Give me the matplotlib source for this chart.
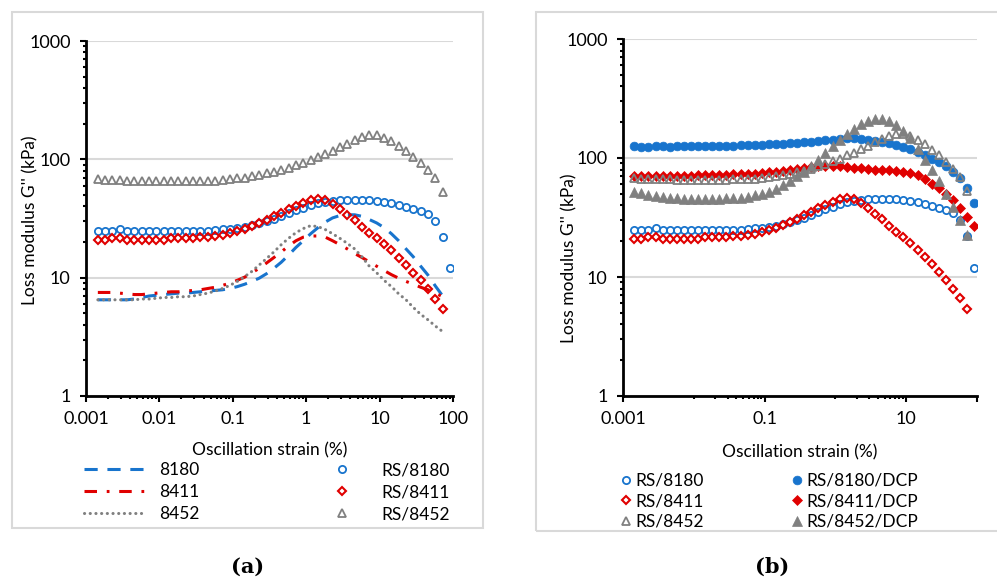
import matplotlib.pyplot as plt
from matplotlib.legend import Legend
from matplotlib.patches import Rectangle
from matplotlib.ticker import FixedLocator, NullFormatter

plt.rcParams['font.family'] = ['Lato', 'DejaVu Sans']
plt.rcParams['lines.scale_dashes'] = False

# ---- data ----
strain = [0.00145, 0.00182, 0.00229, 0.00288, 0.00363, 0.00457, 0.00575, 0.00724, 0.00912,
          0.0115, 0.0145, 0.0182, 0.0229, 0.0288, 0.0363, 0.0457, 0.0575, 0.0724, 0.0912,
          0.115, 0.145, 0.182, 0.229, 0.288, 0.363, 0.457, 0.575, 0.724, 0.912,
          1.15, 1.45, 1.82, 2.29, 2.88, 3.63, 4.57, 5.75, 7.24, 9.12,
          11.5, 14.5, 18.2, 22.9, 28.8, 36.3, 45.7, 57.5, 72.4, 91.2]

# neat polymers (lines)
g_8180 = [6.5, 6.5, 6.5, 6.5, 6.5, 6.6, 6.8, 7.0, 7.1, 7.2, 7.3, 7.4, 7.4, 7.5, 7.6, 7.7,
          7.8, 7.9, 8.1, 8.4, 8.8, 9.3, 9.9, 10.8, 12, 13.5, 15.5, 18, 20.5, 23.5, 26.5,
          29.5, 32, 33.5, 34, 34, 33, 31, 29, 26.5, 23.5, 20.5, 17.5, 15, 12.5, 10.5, 8.5, 7]
g_8411 = [7.5, 7.5, 7.5, 7.4, 7.3, 7.2, 7.2, 7.3, 7.4, 7.5, 7.6, 7.6, 7.7, 7.8, 7.9, 8.1,
          8.3, 8.6, 9.0, 9.5, 10.1, 11, 12, 13.3, 14.8, 16.5, 18.5, 20.5, 22, 22.5, 22.5,
          22, 20.5, 19, 17.5, 16, 14.8, 13.6, 12.5, 11.5, 10.6, 9.9, 9.3, 8.8, 8.3, 7.9, 7.4, 6.9]
g_8452 = [6.5, 6.5, 6.5, 6.5, 6.5, 6.5, 6.6, 6.6, 6.7, 6.8, 6.8, 6.9, 6.9, 7.0, 7.2, 7.4,
          7.7, 8.1, 8.6, 9.3, 10.2, 11.3, 12.8, 14.5, 16.5, 19, 21.5, 24, 26, 27.5, 27,
          25.5, 23.5, 21.5, 19.5, 17.5, 15, 12.5, 11, 9.5, 8.4, 7.3, 6.5, 5.6, 4.9, 4.4, 3.9, 3.5]

# RS blends (open markers)
rs_8180 = [25, 25, 25, 26, 25, 25, 25, 25, 25, 25, 25, 25, 25, 25, 25, 25, 25.5, 26, 26,
           26.5, 27, 28, 29, 30, 31.5, 33, 35, 37, 39, 41, 42.5, 43.5, 44.5, 45, 45.5, 45.5,
           45.5, 45, 44.5, 43.5, 42.5, 41, 39.5, 38, 36.5, 34.5, 30, 22, 12]
rs_8411 = [21, 21, 21.5, 21.5, 21, 21, 21, 21, 21, 21, 21.5, 21.5, 21.5, 21.5, 22, 22, 22.5,
           23, 24, 25, 26, 27.5, 29, 31, 33, 35.5, 38, 40.5, 43, 45, 46, 45, 42, 38, 34,
           30.5, 27, 24, 21.5, 19.3, 17, 14.8, 12.8, 11, 9.5, 8, 6.6, 5.4]
rs_8452 = [68, 67, 67, 67, 66, 66, 65, 65, 65, 65, 65, 65, 65, 65, 66, 66, 66, 67, 68, 69,
           70, 72, 74, 76, 78, 81, 85, 89, 94, 99, 105, 111, 118, 126, 135, 145, 153, 160,
           160, 152, 143, 130, 117, 105, 93, 81, 69, 53]

# RS blends with DCP (filled markers)
dcp_8180 = [126, 124, 124, 125, 125, 124, 125, 125, 126, 126, 126, 126, 127, 127, 127, 128,
            128, 129, 129, 130, 131, 132, 133, 134, 135, 137, 139, 141, 143, 145, 146, 146,
            145, 143, 140, 137, 133, 129, 124, 119, 113, 106, 99, 92, 85, 77, 68, 56, 42]
dcp_8411 = [71, 71, 71, 71, 71, 71, 71, 71, 71, 72, 72, 72, 72, 72, 73, 73, 74, 74, 75, 76,
            77, 78, 80, 81, 83, 84, 85, 86, 86, 85, 84, 83, 82, 81, 80, 80, 79, 78, 77, 75,
            72, 67, 61, 56, 50, 44, 38, 32, 27]
dcp_8452 = [52, 51, 49, 48, 47, 46, 46, 45.5, 45.5, 45.5, 45.5, 45.5, 45.5, 46, 46, 46.5,
            47, 48.5, 50, 52, 55, 59, 64, 70, 77, 86, 97, 110, 125, 141, 158, 175, 192, 205,
            213, 214, 205, 190, 170, 146, 120, 97, 80, 64, 50, 39, 30, 22.5]

BLUE, RED, GRAY = '#1874CD', '#E00000', '#808080'
FS = 12.5
W, H = 997, 580
fig = plt.figure(figsize=(W / 100, H / 100), dpi=100)


def box(x0, y0, x1, y1):
    # pixel box (top-left origin) -> figure fraction rect
    return [x0 / W, 1 - y1 / H, (x1 - x0) / W, (y1 - y0) / H]


def frame(x0, y0, x1, y1):
    fig.add_artist(Rectangle((x0 / W, 1 - y1 / H), (x1 - x0) / W, (y1 - y0) / H,
                             transform=fig.transFigure, fill=False, ec='#d9d9d9', lw=1.5))


def style(ax):
    ax.set_xscale('log')
    ax.set_yscale('log')
    ax.set_xlim(0.001, 100)
    ax.set_ylim(1, 1000)
    for s in ['top', 'right']:
        ax.spines[s].set_visible(False)
    for s in ['left', 'bottom']:
        ax.spines[s].set_linewidth(2)
    ax.set_yticks([1, 10, 100, 1000], ['1', '10', '100', '1000'])
    ax.yaxis.set_minor_locator(FixedLocator([k * 10 ** e for e in range(3) for k in range(2, 10)]))
    ax.yaxis.set_minor_formatter(NullFormatter())
    ax.xaxis.set_minor_formatter(NullFormatter())
    ax.tick_params(which='major', length=4, width=1.5, labelsize=13, pad=7)
    ax.tick_params(which='minor', length=2.5, width=1.5)
    ax.grid(axis='y', which='major', color='#d9d9d9', lw=1.5)
    ax.set_axisbelow(True)


def legend(ax, handles, x, y, **kw):
    lg = Legend(ax, handles, [h.get_label() for h in handles], loc='upper left',
                bbox_to_anchor=(x / W, 1 - y / H), bbox_transform=fig.transFigure,
                frameon=False, fontsize=FS, borderpad=0, borderaxespad=0, numpoints=1, **kw)
    ax.add_artist(lg)


frame(12, 12, 483, 528)
frame(536, 12, 1010, 531)

# ---- (a) ----
ax1 = fig.add_axes(box(86, 41, 453, 396))
style(ax1)
ax1.set_xticks([0.001, 0.01, 0.1, 1, 10, 100], ['0.001', '0.01', '0.1', '1', '10', '100'])
ax1.xaxis.set_minor_locator(FixedLocator([k * 10.0 ** e for e in range(-3, 2) for k in range(2, 10)]))

n = len(g_8180)
l1, = ax1.plot(strain[:n], g_8180, color=BLUE, lw=2.2, dashes=(9.5, 7), label='8180')
m1, = ax1.plot(strain[:len(rs_8180)], rs_8180, ls='none', marker='o', ms=5.2, mfc='none',
               mec=BLUE, mew=1.3, label='RS/8180')
l2, = ax1.plot(strain[:n], g_8411, color=RED, lw=2.2, dashes=(9, 7, 2, 7), label='8411')
m2, = ax1.plot(strain[:len(rs_8411)], rs_8411, ls='none', marker='D', ms=4.2, mfc='none',
               mec=RED, mew=1.5, label='RS/8411')
l3, = ax1.plot(strain[:n], g_8452, color=GRAY, lw=2.2, dashes=(0.1, 4), dash_capstyle='round',
               label='8452')
m3, = ax1.plot(strain[:len(rs_8452)], rs_8452, ls='none', marker='^', ms=6, mfc='none',
               mec=GRAY, mew=1.3, label='RS/8452')

legend(ax1, [l1, l2, l3], 84, 462, handlelength=3.5, handletextpad=0.85, labelspacing=0.35)
legend(ax1, [m1, m2, m3], 334, 462, handlelength=0.9, handletextpad=1.85, labelspacing=0.35)

fig.text(30 / W, 1 - 220 / H, "Loss modulus G'' (kPa)", rotation=90, ha='center', va='center',
         fontsize=FS)
fig.text(270 / W, 1 - 450 / H, 'Oscillation strain (%)', ha='center', va='center', fontsize=FS)
fig.text(248 / W, 1 - 567 / H, '(a)', ha='center', va='center', fontsize=15,
         family='DejaVu Serif', weight='bold')

# ---- (b) ----
ax2 = fig.add_axes(box(623, 39, 977, 396))
style(ax2)
ax2.set_xticks([0.001, 0.1, 10, 100], ['0.001', '0.1', '10', ''])
ax2.xaxis.set_minor_locator(FixedLocator([k * 0.01 for k in range(1, 10)] + list(range(1, 10))))

p1, = ax2.plot(strain[:len(rs_8180)], rs_8180, ls='none', marker='o', ms=5.2, mfc='none',
               mec=BLUE, mew=1.3, label='RS/8180')
q1, = ax2.plot(strain[:len(dcp_8180)], dcp_8180, ls='none', marker='o', ms=6.3, mfc=BLUE,
               mec=BLUE, mew=0.5, label='RS/8180/DCP')
p2, = ax2.plot(strain[:len(rs_8411)], rs_8411, ls='none', marker='D', ms=4.2, mfc='none',
               mec=RED, mew=1.5, label='RS/8411')
q2, = ax2.plot(strain[:len(dcp_8411)], dcp_8411, ls='none', marker='D', ms=5, mfc=RED,
               mec=RED, mew=0.5, label='RS/8411/DCP')
p3, = ax2.plot(strain[:len(rs_8452)], rs_8452, ls='none', marker='^', ms=6, mfc='none',
               mec=GRAY, mew=1.3, label='RS/8452')
q3, = ax2.plot(strain[:len(dcp_8452)], dcp_8452, ls='none', marker='^', ms=7, mfc=GRAY,
               mec=GRAY, mew=0.5, label='RS/8452/DCP')

legend(ax2, [p1, p2, p3], 621, 473, handlelength=0.6, handletextpad=0.25, labelspacing=0.25)
legend(ax2, [q1, q2, q3], 792, 473, handlelength=0.6, handletextpad=0.25, labelspacing=0.25)

fig.text(569 / W, 1 - 258 / H, "Loss modulus G'' (kPa)", rotation=90, ha='center', va='center',
         fontsize=FS)
fig.text(800 / W, 1 - 452 / H, 'Oscillation strain (%)', ha='center', va='center', fontsize=FS)
fig.text(772 / W, 1 - 567 / H, '(b)', ha='center', va='center', fontsize=15,
         family='DejaVu Serif', weight='bold')

fig.savefig('out.png', dpi=100)
